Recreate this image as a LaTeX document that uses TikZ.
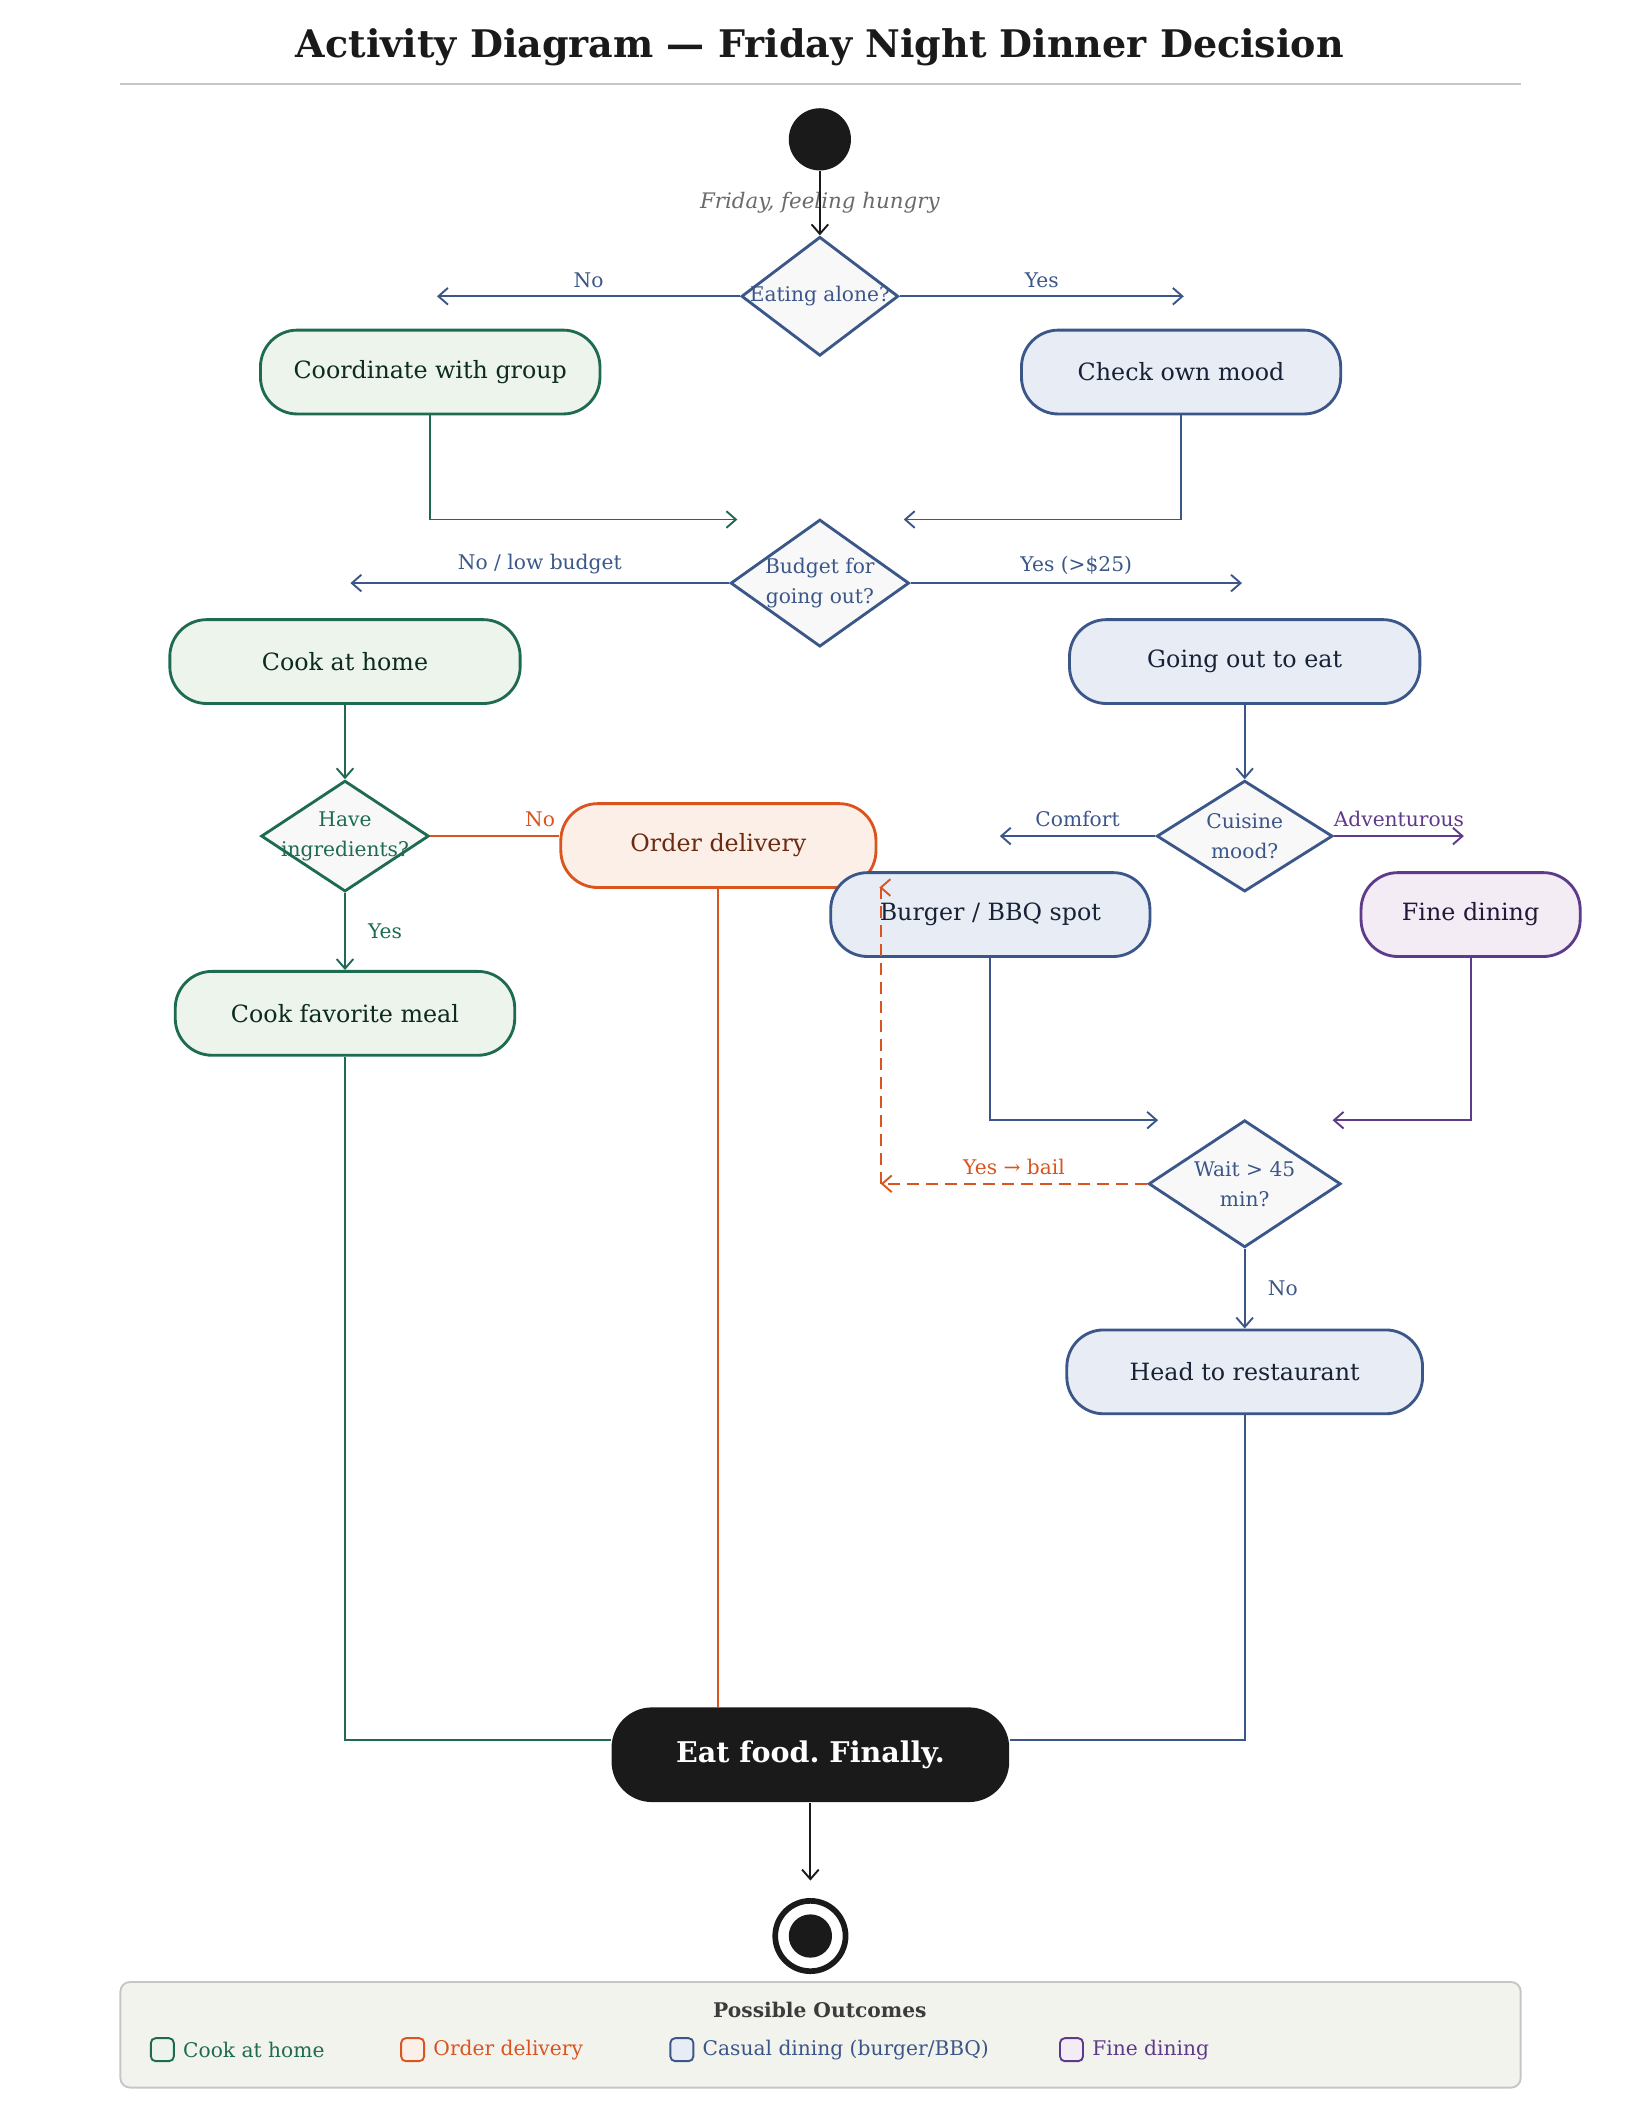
\documentclass[tikz,border=0pt]{standalone}
\usepackage{fontspec}
\setmainfont{DejaVu Serif}
\usetikzlibrary{shapes.geometric,arrows.meta}
\definecolor{ink}{HTML}{1A1A1A}
\definecolor{grn}{HTML}{1E6B52}
\definecolor{grnfill}{HTML}{EDF4EC}
\definecolor{blu}{HTML}{3B5688}
\definecolor{blufill}{HTML}{E8ECF4}
\definecolor{org}{HTML}{D9541E}
\definecolor{orgfill}{HTML}{FCEFE8}
\definecolor{pur}{HTML}{5E3A8A}
\definecolor{purfill}{HTML}{F3ECF5}
\definecolor{legfill}{HTML}{F3F3EE}
\frenchspacing
\begin{document}
\begin{tikzpicture}[x=0.02cm, y=-0.02cm, font=\fontsize{10}{12}\selectfont]
    % Define styles
    \tikzstyle{action} = [draw, line width=1.2pt, rounded corners=15.5pt, minimum height=1.24cm, align=center]
    \tikzstyle{green} = [action, draw=grn, fill=grnfill, text=grn!40!black]
    \tikzstyle{blue} = [action, draw=blu, fill=blufill, text=blu!40!black]
    \tikzstyle{orange} = [action, draw=org, fill=orgfill, text=org!50!black]
    \tikzstyle{purple} = [action, draw=pur, fill=purfill, text=pur!40!black]
    \tikzstyle{decision} = [diamond, draw=blu, line width=1.2pt, fill=ink!3, inner sep=0pt, label={[text=blu, align=center, font=\fontsize{8.5}{12.5}\selectfont]center:#1}]
    \tikzstyle{arrow} = [-{Straight Barb[length=4pt,width=7pt]}, ink, line width=0.8pt]
    \tikzstyle{flow} = [line width=0.8pt]
    \tikzstyle{lbl} = [font=\fontsize{8.5}{10}\selectfont, text=blu]
    \tikzstyle{legbox} = [draw, line width=0.8pt, rounded corners=2pt, minimum size=0.34cm, inner sep=0pt]

    \useasboundingbox (0,0) rectangle (1212,1567);

    % Title
    \node[font=\bfseries\fontsize{16}{18}\selectfont, text=ink] (title) at (606,35) {Activity Diagram — Friday Night Dinner Decision};
    \draw[ink!25, line width=0.6pt] (89,62) -- (1124,62);

    % Start
    \node[circle, fill=ink, minimum size=0.92cm, inner sep=0pt] (start) at (606,103) {};
    \node[font=\itshape\fontsize{9}{11}\selectfont, text=ink!65] (hungry) at (606,150) {Friday, feeling hungry};

    % Decisions
    \node[decision={Eating alone?}, minimum width=2.32cm, minimum height=1.76cm] (alone) at (606,219) {};
    \node[decision={Budget for\\going out?}, minimum width=2.64cm, minimum height=1.88cm] (budget) at (606,431) {};
    \node[decision={\color{grn}Have\\\color{grn}ingredients?}, draw=grn, minimum width=2.48cm, minimum height=1.64cm] (ingr) at (255,618) {};
    \node[decision={Cuisine\\mood?}, minimum width=2.6cm, minimum height=1.64cm] (cuisine) at (920,618) {};
    \node[decision={Wait > 45\\min?}, minimum width=2.84cm, minimum height=1.88cm] (wait) at (920,875) {};

    % Actions
    \node[green, minimum width=5.02cm] (group) at (318,275) {Coordinate with group};
    \node[blue, minimum width=4.72cm] (mood) at (873,275) {Check own mood};
    \node[green, minimum width=5.18cm] (home) at (255,489) {Cook at home};
    \node[blue, minimum width=5.18cm] (out) at (920,489) {Going out to eat};
    \node[orange, minimum width=4.66cm] (deliv) at (531,625) {Order delivery};
    \node[blue, minimum width=4.72cm] (burger) at (732,676) {Burger / BBQ spot};
    \node[purple, minimum width=3.24cm] (fine) at (1087,676) {Fine dining};
    \node[green, minimum width=5.02cm] (fav) at (255,749) {Cook favorite meal};
    \node[blue, minimum width=5.26cm] (head) at (920,1014) {Head to restaurant};

    % Free ends
    \coordinate (noA) at (323,219);
    \coordinate (yesA) at (875,219);
    \coordinate (mergeL) at (545,384);
    \coordinate (mergeR) at (668,384);
    \coordinate (noB) at (259,431);
    \coordinate (yesB) at (918,431);
    \coordinate (comf) at (739,618);
    \coordinate (adv) at (1082,618);
    \coordinate (waitL) at (856,828);
    \coordinate (waitR) at (985,828);
    \coordinate (bail) at (651,875);
    \coordinate (bailtop) at (651,656);
    \coordinate (bailtip) at (650,656);
    \coordinate (endin) at (599,1390);

    % Flow
    \draw[arrow] (start) -- (alone.north);
    \draw[arrow, blu] (alone.west) -- node[lbl, above] {No} (noA);
    \draw[arrow, blu] (alone.east) -- node[lbl, above] {Yes} (yesA);
    \draw[arrow, grn] (group.south) |- (mergeL);
    \draw[arrow, blu] (mood.south) |- (mergeR);
    \draw[arrow, blu] (budget.west) -- node[lbl, above] {No / low budget} (noB);
    \draw[arrow, blu] (budget.east) -- node[lbl, above] {Yes (>\$25)} (yesB);
    \draw[arrow, grn] (home.south) -- (ingr.north);
    \draw[flow, org] (ingr.east) -- node[lbl, text=org, above, pos=0.85] {No} (ingr.east -| deliv.west);
    \draw[arrow, grn] (ingr.south) -- node[lbl, text=grn, right=6pt] {Yes} (fav.north);
    \draw[arrow, blu] (out.south) -- (cuisine.north);
    \draw[arrow, blu] (cuisine.west) -- node[lbl, above] {Comfort} (comf);
    \draw[arrow, pur] (cuisine.east) -- node[lbl, text=pur, above] {Adventurous} (adv);
    \draw[arrow, blu] (burger.south) |- (waitL);
    \draw[arrow, pur] (fine.south) |- (waitR);
    \draw[arrow, org, dash pattern=on 5pt off 3pt, line width=0.8pt] (wait.west) -- node[lbl, text=org, above] {Yes → bail} (bail);
    \draw[arrow, org, dash pattern=on 5pt off 3pt, line width=0.8pt] (bail) -- (bailtop) -- (bailtip);
    \draw[arrow, blu] (wait.south) -- node[lbl, right=6pt] {No} (head.north);

    % End
    \node[rounded corners=17pt, fill=ink, text=white, minimum width=5.88cm, minimum height=1.4cm, font=\bfseries\fontsize{12}{14}\selectfont] (eat) at (599,1297) {Eat food. Finally.};
    \draw[flow, grn] (fav.south) |- (eat.west |- 0,1286);
    \draw[flow, org] (deliv.south) -- (deliv.south |- eat.north);
    \draw[flow, blu] (head.south) |- (eat.east |- 0,1286);
    \draw[arrow] (eat.south) -- (endin);
    \node[circle, draw=ink, line width=2.4pt, minimum size=1.04cm, inner sep=0pt] (stop) at (599,1431) {};
    \node[circle, fill=ink, minimum size=0.64cm, inner sep=0pt] (stopdot) at (599,1431) {};

    % Legend
    \draw[ink!25, fill=legfill, line width=0.8pt, rounded corners=4pt] (89,1465) rectangle (1124,1543);
    \node[font=\bfseries\fontsize{8.5}{10}\selectfont, text=ink!85] (legtitle) at (606,1486) {Possible Outcomes};
    \node[legbox, draw=grn, fill=grnfill] (lg1) at (120,1515) {};
    \node[lbl, text=grn, anchor=west] (lt1) at (lg1.east) {Cook at home};
    \node[legbox, draw=org, fill=orgfill] (lg2) at (305,1515) {};
    \node[lbl, text=org, anchor=west] (lt2) at (lg2.east) {Order delivery};
    \node[legbox, draw=blu, fill=blufill] (lg3) at (504,1515) {};
    \node[lbl, text=blu, anchor=west] (lt3) at (lg3.east) {Casual dining (burger/BBQ)};
    \node[legbox, draw=pur, fill=purfill] (lg4) at (792,1515) {};
    \node[lbl, text=pur, anchor=west] (lt4) at (lg4.east) {Fine dining};
\end{tikzpicture}
\end{document}
